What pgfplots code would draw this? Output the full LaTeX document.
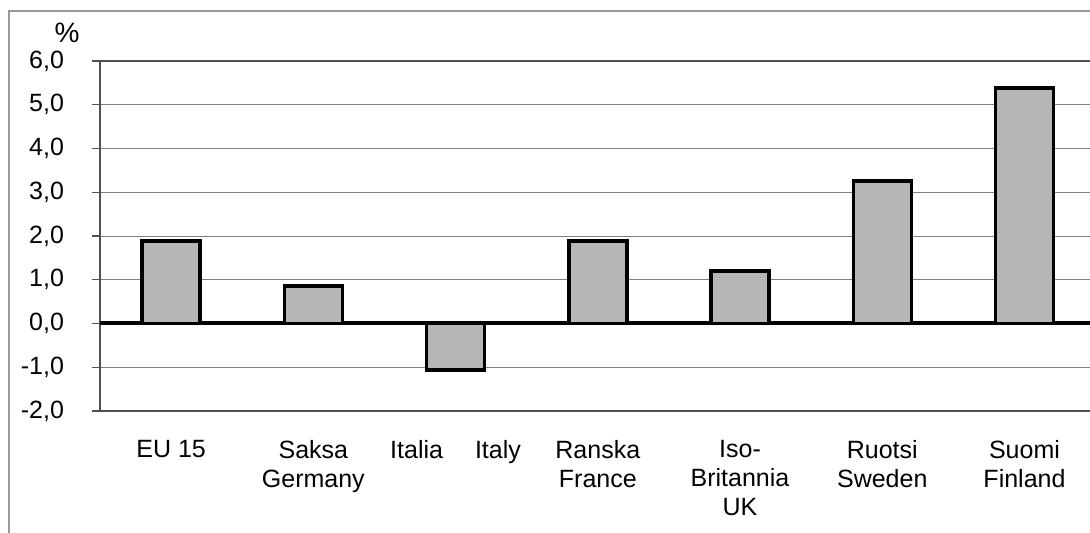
\documentclass[border=0pt]{standalone}
\usepackage{fontspec}
\setmainfont{Liberation Sans}
\usepackage{pgfplots}
\pgfplotsset{compat=1.18}
\definecolor{barfill}{RGB}{182,182,182}
\definecolor{axisgray}{RGB}{80,80,80}
\begin{document}
\begin{tikzpicture}
\begin{axis}[name=ax,
    scale only axis,
    width=497.8pt, height=175pt,
    xmin=-0.5, xmax=6.5,
    ymin=-2, ymax=6,
    ytick={-2,-1,...,6},
    ybar, bar width=29pt,
    xtick=data,
    xticklabels={EU 15, Saksa\\Germany, Italia\hspace{16pt}Italy, Ranska\\France, Iso-\\Britannia\\UK, Ruotsi\\Sweden, Suomi\\Finland},
    xticklabel style={align=center, font=\fontsize{12.5}{14.5}\selectfont, yshift=-7pt},
    xtick style={draw=none},
    yticklabel style={font=\fontsize{12.5}{14}\selectfont, xshift=-10.5pt},
    /pgf/number format/.cd, fixed, fixed zerofill, precision=1, use comma, assume math mode=true,
    /pgfplots/.cd,
    ytick pos=left, tick align=outside, major tick length=4pt,
    ytick style={draw=axisgray, line width=0.6pt},
    ymajorgrids, grid style={black!50, line width=0.4pt},
    extra y ticks={0}, extra y tick labels={},
    extra y tick style={grid style={black, line width=2pt}, major tick length=0pt},
    axis line style={draw=axisgray, line width=1.1pt},
    clip=false,
]
\addplot[fill=barfill, draw=black, line width=1.7pt] coordinates {
    (0,1.89) (1,0.86) (2,-1.06) (3,1.89) (4,1.20) (5,3.26) (6,5.38)
};
\end{axis}
\node[font=\fontsize{14}{14}\selectfont] at ([shift={(-16.5pt,14pt)}]ax.north west) {\%};
\draw[black!40, line width=0.6pt] ([shift={(-45.5pt,-70pt)}]ax.south west) -- ([shift={(-45.5pt,200pt)}]ax.south west) -- ([shift={(520pt,200pt)}]ax.south west);
\pgfresetboundingbox
\path[use as bounding box] ([shift={(-50pt,-61pt)}]ax.south west) rectangle ([shift={(495pt,205.5pt)}]ax.south west);
\end{tikzpicture}
\end{document}
